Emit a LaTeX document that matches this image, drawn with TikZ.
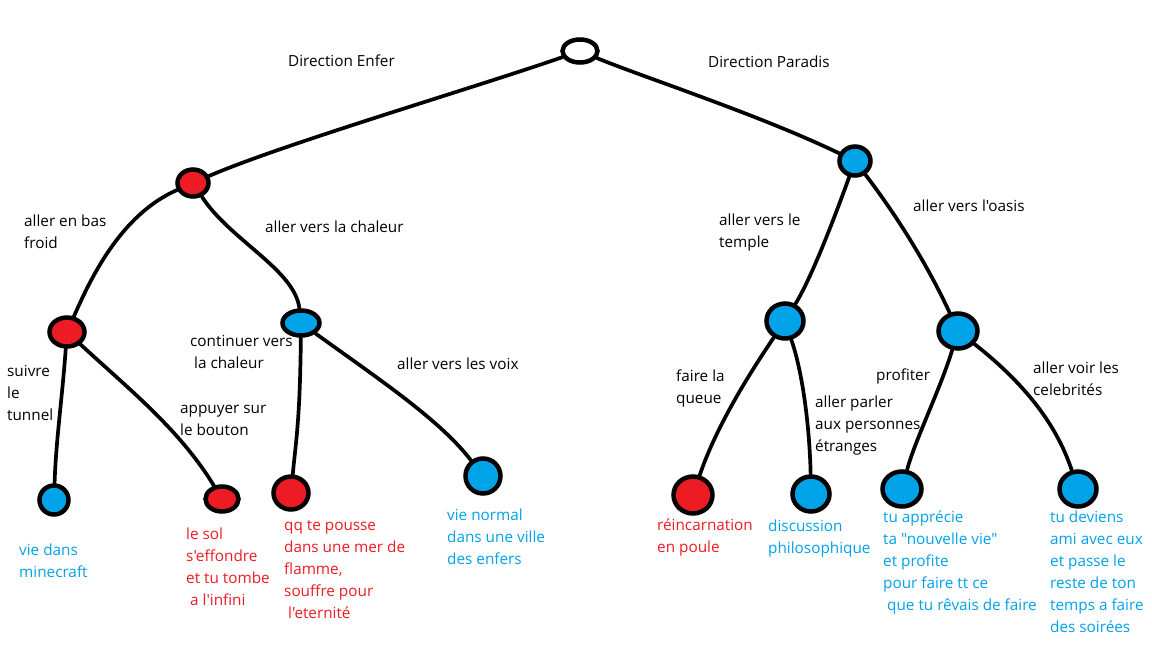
\documentclass[tikz,border=0pt]{standalone}
\usepackage{fontspec}
\setmainfont{Open Sans}[Ligatures=TeXOff]
\usetikzlibrary{shapes.geometric,backgrounds}
\definecolor{pred}{HTML}{ED1C24}
\definecolor{pblue}{HTML}{00A2E8}
\begin{document}
\begin{tikzpicture}[x=1pt,y=-1pt,
  nd/.style={draw=black,line width=4.5pt,ellipse,inner sep=0pt},
  rn/.style={nd,fill=pred},
  bn/.style={nd,fill=pblue},
  wn/.style={nd,fill=white},
  edge/.style={draw=black,line width=3.7pt,line cap=round},
  lbl/.style={anchor=north west,inner sep=0pt,align=left,font=\fontsize{15.3}{22}\selectfont},
  bt/.style={lbl,text=black},
  rt/.style={lbl,text=pred},
  blt/.style={lbl,text=pblue}]
\useasboundingbox (0,0) rectangle (1152,648);
% nodes
\node[wn,minimum width=35pt,minimum height=23pt] (root) at (580,51) {};
\node[rn,minimum width=31pt,minimum height=27pt] (A) at (193,183) {};
\node[bn,minimum width=31pt,minimum height=29pt] (B) at (855,161) {};
\node[rn,minimum width=35pt,minimum height=29pt] (A1) at (67,332) {};
\node[bn,minimum width=37pt,minimum height=25pt] (A2) at (301,323) {};
\node[bn,minimum width=29pt,minimum height=29pt] (A1a) at (54,500) {};
\node[rn,minimum width=33pt,minimum height=25pt] (A1b) at (222,499) {};
\node[rn,minimum width=35pt,minimum height=33pt] (A2a) at (291,493) {};
\node[bn,minimum width=35pt,minimum height=35pt] (A2b) at (483,476) {};
\node[bn,minimum width=37pt,minimum height=35pt] (B1) at (785,321) {};
\node[bn,minimum width=39pt,minimum height=35pt] (B2) at (958,331) {};
\node[rn,minimum width=39pt,minimum height=37pt] (B1a) at (693,495) {};
\node[bn,minimum width=37pt,minimum height=35pt] (B1b) at (811,494) {};
\node[bn,minimum width=39pt,minimum height=35pt] (B2a) at (902,489) {};
\node[bn,minimum width=37pt,minimum height=35pt] (B2b) at (1078,489) {};
% edges
\begin{pgfonlayer}{background}
\fill[white] (0,0) rectangle (1152,648);
\draw[edge] (root) .. controls (480,86) and (280,145) .. (A);
\draw[edge] (root) .. controls (640,76) and (760,115) .. (B);
\draw[edge] (A) .. controls (120,215) and (90,280) .. (A1);
\draw[edge] (A) .. controls (230,240) and (295,270) .. (A2);
\draw[edge] (A1) .. controls (62,400) and (56,440) .. (A1a);
\draw[edge] (A1) .. controls (130,390) and (180,430) .. (A1b);
\draw[edge] (A2) .. controls (300,420) and (296,440) .. (A2a);
\draw[edge] (A2) .. controls (380,380) and (440,420) .. (A2b);
\draw[edge] (B) .. controls (830,230) and (810,280) .. (B1);
\draw[edge] (B) .. controls (900,220) and (930,270) .. (B2);
\draw[edge] (B1) .. controls (745,380) and (715,430) .. (B1a);
\draw[edge] (B1) .. controls (805,380) and (810,440) .. (B1b);
\draw[edge] (B2) .. controls (940,390) and (915,440) .. (B2a);
\draw[edge] (B2) .. controls (1020,380) and (1055,420) .. (B2b);
\end{pgfonlayer}
% edge labels
\node[bt] (lEnfer) at (288,51) {\strut Direction Enfer};
\node[bt] (lParadis) at (708,52) {\strut Direction Paradis};
\node[bt] (lbas) at (24,211) {\strut aller en bas\\froid};
\node[bt] (lchal) at (265,217) {\strut aller vers la chaleur};
\node[bt] (ltun) at (7,361) {\strut suivre\\le\\tunnel};
\node[bt] (lbout) at (180,398) {\strut appuyer sur\\le bouton};
\node[bt] (lcont) at (190,331) {\strut continuer vers\\\ la chaleur};
\node[bt] (lvoix) at (397,354) {\strut aller vers les voix};
\node[bt] (ltemp) at (719,210) {\strut aller vers le\\temple};
\node[bt] (loas) at (913,196) {\strut aller vers l'oasis};
\node[bt] (lqueue) at (676,366) {\strut faire la\\queue};
\node[bt] (lparl) at (815,392) {\strut aller parler\\aux personnes\\étranges};
\node[bt] (lprof) at (876,365) {\strut profiter};
\node[bt] (lcel) at (1033,358) {\strut aller voir les\\celebrités};
% leaf texts
\node[blt] (tA1a) at (19,540) {\strut vie dans\\minecraft};
\node[rt] (tA1b) at (186,524) {\strut le sol\\s'effondre\\et tu tombe\\\ a l'infini};
\node[rt] (tA2a) at (284,515) {\strut qq te pousse\\dans une mer de\\flamme,\\souffre pour\\\ l'eternité};
\node[blt] (tA2b) at (447,505) {\strut vie normal\\dans une ville\\des enfers};
\node[rt] (tB1a) at (657,515) {\strut réincarnation\\en poule};
\node[blt] (tB1b) at (768,516) {\strut discussion\\philosophique};
\node[blt] (tB2a) at (883,507) {\strut tu apprécie\\ta "nouvelle vie"\\et profite\\pour faire tt ce\\\ que tu rêvais de faire};
\node[blt] (tB2b) at (1050,507) {\strut tu deviens\\ami avec eux\\et passe le\\reste de ton\\temps a faire\\des soirées};
\end{tikzpicture}
\end{document}
